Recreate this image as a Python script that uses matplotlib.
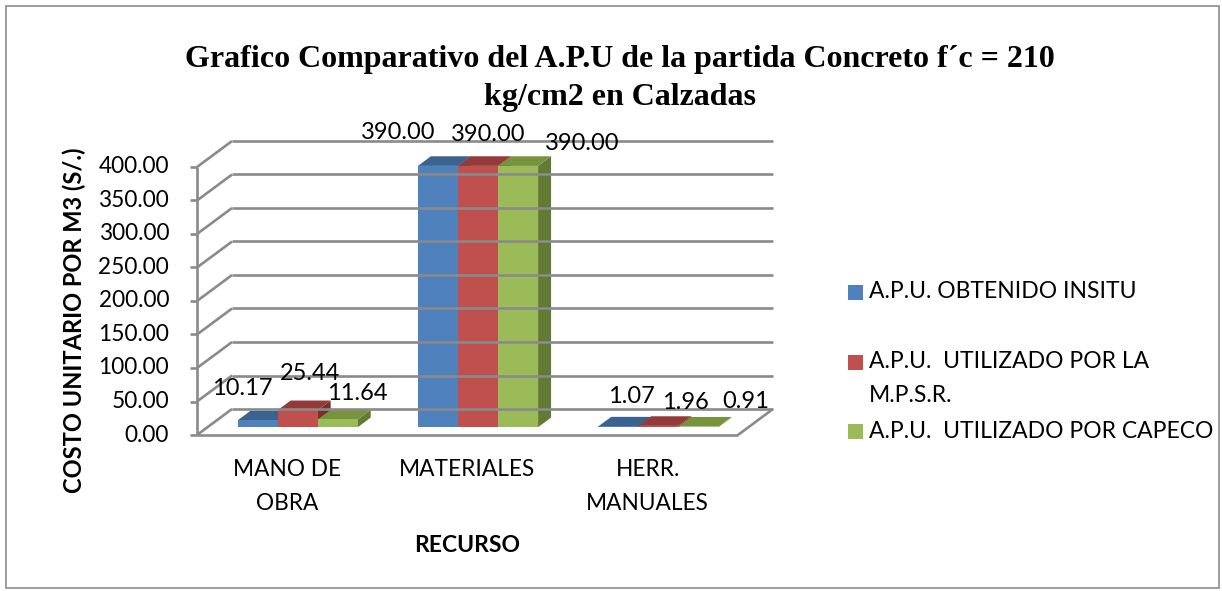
import matplotlib
matplotlib.use("Agg")
import matplotlib.pyplot as plt
from matplotlib.patches import Polygon, Rectangle
from matplotlib import font_manager

# data
categories = ["MANO DE\nOBRA", "MATERIALES", "HERR.\nMANUALES"]
series_names = ["A.P.U. OBTENIDO INSITU",
                "A.P.U.  UTILIZADO POR LA\nM.P.S.R.",
                "A.P.U.  UTILIZADO POR CAPECO"]
insitu = [10.17, 390.00, 1.07]
mpsr = [25.44, 390.00, 1.96]
capeco = [11.64, 390.00, 0.91]
y_ticks = [0, 50, 100, 150, 200, 250, 300, 350, 400]

# style
front_col = ["#4F81BD", "#C0504D", "#9BBB59"]
top_col = ["#3B6390", "#943B39", "#77933C"]
side_col = ["#2F5078", "#7A2F2D", "#627A34"]
grid_col = "#8A8A8A"
body_font = "Lato"
names = set(f.name for f in font_manager.fontManager.ttflist
            if f.name == "Lato" and f.weight in (700, "bold"))
bold_font = "Lato" if names else "Open Sans"

# label offsets in pixels (x, y) from the bar's top-front centre
lab_off = [[(-15, 32), (12, 37), (20, 26)],
           [(-40, 33), (10, 31), (64, 22)],
           [(13, 30), (27, 23), (47, 25)]]

W, H = 1222, 591
fig = plt.figure(figsize=(W / 100, H / 100), dpi=100)

# 3d box in pixel terms: front axis x=197, back x=232; floor front y=435, back y=409
DXp, DYp = 35, 26
left_px, right_px = 197, 773
bot_px, top_px = 435, 141
ymax = 400
vscale = (435 - 167) / 400.0  # px per unit
DY = DYp / vscale
cat_px = 180.0
DX = DXp / cat_px

ax = fig.add_axes([left_px / W, 1 - bot_px / H,
                   (right_px - left_px) / W, (bot_px - top_px) / H])
ax.set_xlim(-0.5, 2.5 + DX)
ax.set_ylim(0, ymax + DY)
ax.axis("off")

gkw = dict(color=grid_col, lw=1.9, clip_on=False, solid_capstyle="butt")
for t in y_ticks:
    ax.plot([-0.5 + DX, 2.5 + DX], [t + DY, t + DY], **gkw)
    ax.plot([-0.5, -0.5 + DX], [t, t + DY], **gkw)
    ax.plot([-0.5 - 0.04, -0.5], [t, t], **gkw)
    ax.text(-0.5 - 0.155, t, "%.2f" % t, ha="right", va="center",
            fontsize=16.3, family=body_font)
ax.plot([-0.5, -0.5], [0, ymax], **gkw)
ax.plot([-0.5, 2.5], [0, 0], **gkw)
ax.plot([2.5, 2.5 + DX], [0, DY], **gkw)

# bars
vals = [insitu, mpsr, capeco]
bw = 40 / cat_px
f, g = 0.3, 0.37
for i in range(len(categories)):
    for j in range(3):
        v = vals[j][i]
        x0 = i - 1.5 * bw + j * bw + f * DX
        y0 = f * DY
        ddx, ddy = g * DX, g * DY
        side = [(x0 + bw, y0), (x0 + bw + ddx, y0 + ddy),
                (x0 + bw + ddx, y0 + ddy + v), (x0 + bw, y0 + v)]
        top = [(x0, y0 + v), (x0 + bw, y0 + v),
               (x0 + bw + ddx, y0 + v + ddy), (x0 + ddx, y0 + v + ddy)]
        ax.add_patch(Polygon(side, closed=True, fc=side_col[j], ec="none"))
        ax.add_patch(Polygon(top, closed=True, fc=top_col[j], ec="none"))
        ax.add_patch(Rectangle((x0, y0), bw, v, fc=front_col[j], ec="none"))
        ox, oy = lab_off[i][j]
        ax.annotate("%.2f" % v, xy=(x0 + bw / 2, y0 + v), xytext=(ox, oy),
                    textcoords="offset pixels", ha="center", va="center",
                    fontsize=17, family=body_font, annotation_clip=False)

# category labels, one line at a time (line pitch 33 px)
for i, c in enumerate(categories):
    for k, line in enumerate(c.split("\n")):
        ax.text(i, -(470 + 33 * k - 435) / vscale, line, ha="center",
                va="center", fontsize=16.3, family=body_font)

fig.text(467 / W, 1 - 545 / H, "RECURSO", ha="center", va="center",
         fontsize=16.5, fontweight="bold", family=bold_font)
fig.text(74 / W, 1 - 320 / H, "COSTO UNITARIO POR M3 (S/.)", rotation=90,
         ha="center", va="center", fontsize=17, fontweight="bold",
         family=bold_font)

fig.text(620 / W, 1 - 59 / H, "Grafico Comparativo del A.P.U de la partida Concreto f\u00b4c = 210",
         ha="center", va="center", fontsize=23, fontweight="bold",
         family="Liberation Serif")
fig.text(620 / W, 1 - 98 / H, "kg/cm2 en Calzadas", ha="center", va="center",
         fontsize=23, fontweight="bold", family="Liberation Serif")

# legend
leg_y = [292, 362, 431]
for j in range(3):
    fig.patches.append(Rectangle((848 / W, 1 - (leg_y[j] + 7.5) / H), 15 / W, 15 / H,
                                 fc=front_col[j], ec="none",
                                 transform=fig.transFigure, figure=fig))
    for k, line in enumerate(series_names[j].split("\n")):
        fig.text(869 / W, 1 - (leg_y[j] + 33 * k) / H, line, ha="left",
                 va="center", fontsize=16.5, family=body_font)

# outer border
fig.patches.append(Rectangle((6 / W, 3 / H), 1213 / W, 582 / H, fill=False,
                             ec="#8C8C8C", lw=1.2, transform=fig.transFigure,
                             figure=fig))

fig.savefig("out.png", dpi=100, facecolor="white")
